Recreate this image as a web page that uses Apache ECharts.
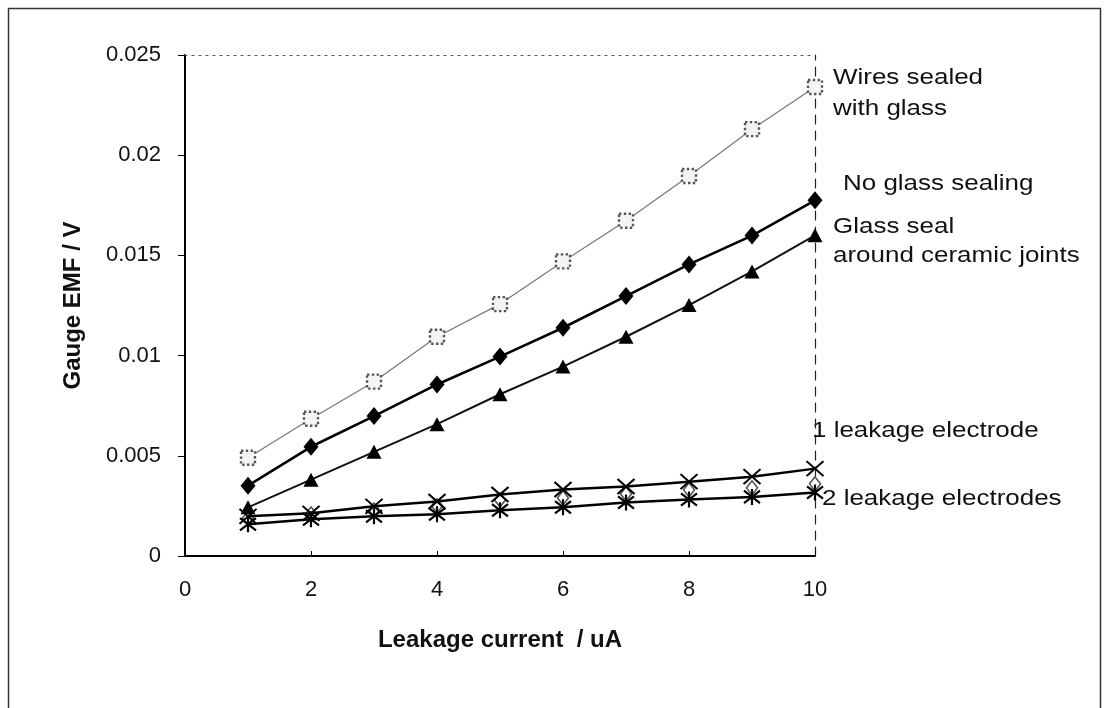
<!DOCTYPE html>
<html>
<head>
<meta charset="utf-8">
<script src="https://cdn.jsdelivr.net/npm/echarts@6/dist/echarts.min.js"></script>
<style>
html,body{margin:0;padding:0;background:#fff;}
#c{width:1105px;height:708px;}
</style>
</head>
<body>
<div id="c"></div>
<script>
const xValues = [1,2,3,4,5,6,7,8,9,10];
const wiresSealed = [0.0049,0.00685,0.0087,0.01094,0.01257,0.0147,0.01673,0.01896,0.0213,0.0234];
const noGlass = [0.00351,0.00545,0.00698,0.00856,0.00995,0.01139,0.01297,0.01455,0.01599,0.01775];
const glassSeal = [0.00243,0.00381,0.0052,0.00658,0.00807,0.00945,0.01094,0.01252,0.0142,0.0160];
const oneElectrode = [0.00198,0.00213,0.00248,0.00272,0.00307,0.00332,0.00347,0.00371,0.00396,0.00436];
const twoElectrodes = [0.00158,0.00183,0.00198,0.00208,0.00228,0.00243,0.00267,0.00282,0.00295,0.00317];
const hiddenDiamonds = [0.0019,0.0021,0.0023,0.0025,0.0028,0.0029,0.0031,0.0033,0.0034,0.0036];
const xTicks = [0,2,4,6,8,10];
const yTicks = [0,0.005,0.01,0.015,0.02,0.025];

const pair = arr => xValues.map((x,i)=>[x,arr[i]]);
const FONT = 'Liberation Sans, Arial, sans-serif';
const XSYM = 'path://M0,0L10,10M10,0L0,10';
const STAR = 'path://M0,0L10,10M10,0L0,10M5,-1.5L5,11.5';

const chart = echarts.init(document.getElementById('c'), null, {renderer:'canvas'});
chart.setOption({
  backgroundColor:'#fff',
  animation:false,
  grid:{left:185, right:290, top:55, bottom:152, containLabel:false},
  xAxis:[{
    type:'value', min:0, max:10, interval:2,
    axisLine:{show:true, onZero:false, lineStyle:{color:'#000', width:2}},
    axisTick:{show:true, inside:true, length:5, lineStyle:{color:'#000'}},
    axisLabel:{fontFamily:FONT, fontSize:22, color:'#111', margin:23,
      formatter: v => xTicks.includes(v) ? String(v) : ''},
    splitLine:{show:false},
    name:'Leakage current  / uA', nameLocation:'middle', nameGap:72,
    nameTextStyle:{fontFamily:FONT, fontSize:24, fontWeight:'bold', color:'#111'}
  },{
    type:'value', min:0, max:10, position:'top',
    axisLine:{show:true, onZero:false, lineStyle:{color:'#555', width:1.2, type:[2,5]}},
    axisTick:{show:false}, axisLabel:{show:false}, splitLine:{show:false}
  }],
  yAxis:[{
    type:'value', min:0, max:0.025, interval:0.005,
    axisLine:{show:true, onZero:false, lineStyle:{color:'#000', width:2}},
    axisTick:{show:true, length:7, lineStyle:{color:'#000'}},
    axisLabel:{fontFamily:FONT, fontSize:22, color:'#111', margin:24,
      formatter: v => { const t = yTicks.find(y=>Math.abs(y-v)<1e-9); return t===undefined?'':String(+t.toFixed(3)); }},
    splitLine:{show:false},
    name:'Gauge EMF / V', nameLocation:'middle', nameGap:100,
    nameTextStyle:{fontFamily:FONT, fontSize:24, fontWeight:'bold', color:'#111'}
  },{
    type:'value', min:0, max:0.025, position:'right',
    axisLine:{show:true, onZero:false, lineStyle:{color:'#222', width:1.2, type:[9,7]}},
    axisTick:{show:false}, axisLabel:{show:false}, splitLine:{show:false}
  }],
  series:[
    {name:'Hidden', type:'line', data:pair(hiddenDiamonds), showSymbol:true,
      lineStyle:{width:0, opacity:0}, symbol:'diamond', symbolSize:[11,14],
      itemStyle:{color:'#fff', borderColor:'#555', borderWidth:1.6}, z:1},
    {name:'Wires sealed with glass', type:'line', data:pair(wiresSealed),
      lineStyle:{color:'#777', width:1.2}, symbol:'rect', symbolSize:14,
      itemStyle:{color:'#f4f4f4', borderColor:'#555', borderWidth:2.4, borderType:'dotted'}, z:3},
    {name:'No glass sealing', type:'line', data:pair(noGlass),
      lineStyle:{color:'#000', width:2.6}, symbol:'diamond', symbolSize:[15,18],
      itemStyle:{color:'#000'}, z:3},
    {name:'Glass seal around ceramic joints', type:'line', data:pair(glassSeal),
      lineStyle:{color:'#111', width:2}, symbol:'triangle', symbolSize:[15,14],
      itemStyle:{color:'#000'}, z:3},
    {name:'1 leakage electrode', type:'line', data:pair(oneElectrode),
      lineStyle:{color:'#000', width:2.5}, symbol:XSYM, symbolSize:[17,15],
      itemStyle:{color:'none', borderColor:'#000', borderWidth:2}, z:3},
    {name:'2 leakage electrodes', type:'line', data:pair(twoElectrodes),
      lineStyle:{color:'#000', width:2.5}, symbol:STAR, symbolSize:[16,16],
      itemStyle:{color:'none', borderColor:'#000', borderWidth:2.2}, z:4}
  ],
  graphic:[
    {type:'rect', left:6, top:6, shape:{width:1092, height:720}, style:{fill:'none', stroke:'#333', lineWidth:1.5}, silent:true},
    {type:'text', x:833, y:62, scaleX:1.18, style:{text:'Wires sealed\nwith glass', font:'22px '+FONT, fill:'#111', lineHeight:31}},
    {type:'text', x:843, y:173, scaleX:1.18, style:{text:'No glass sealing', font:'22px '+FONT, fill:'#111'}},
    {type:'text', x:833, y:212, scaleX:1.18, style:{text:'Glass seal\naround ceramic joints', font:'22px '+FONT, fill:'#111', lineHeight:29}},
    {type:'text', x:812, y:420, scaleX:1.18, style:{text:'1 leakage electrode', font:'22px '+FONT, fill:'#111'}},
    {type:'text', x:822, y:488, scaleX:1.18, style:{text:'2 leakage electrodes', font:'22px '+FONT, fill:'#111'}}
  ]
});
</script>
</body>
</html>
